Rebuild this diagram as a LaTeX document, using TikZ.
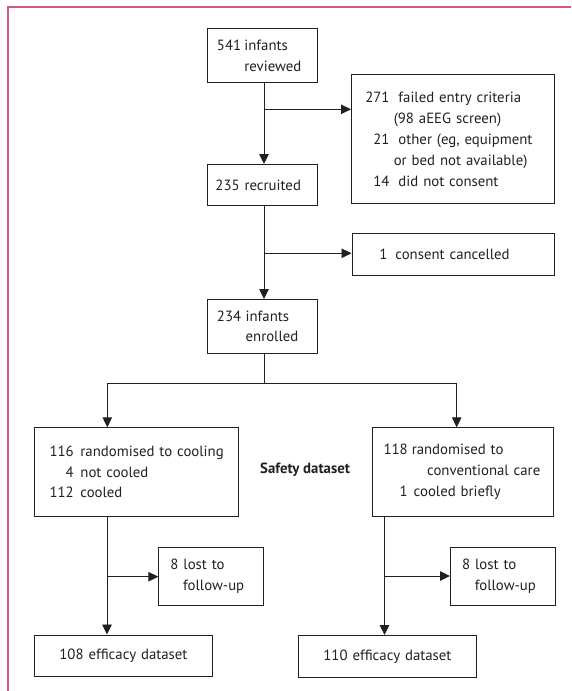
\documentclass[tikz,border=0pt]{standalone}
\usepackage{fontspec}
\setmainfont{PT Sans}
\usetikzlibrary{arrows.meta,calc}
\definecolor{pinkline}{RGB}{212,88,128}
\definecolor{ink}{RGB}{35,31,32}
\begin{document}
\begin{tikzpicture}[x=1pt,y=-1pt,
  box/.style={draw=ink, line width=0.9pt, anchor=north west, inner ysep=0pt,
    align=left, text=ink, font=\fontsize{14.8}{20.8}\selectfont},
  cbox/.style={box, align=center},
  conn/.style={draw=ink, line width=0.9pt},
  arr/.style={conn, -{Triangle[length=10pt,width=9.5pt]}}]
\useasboundingbox (0,0) rectangle (571,691);
\draw[pinkline, line width=1.8pt] (571,7) -- (8,7) -- (8,691);

% boxes
\node[box, minimum width=110pt, minimum height=54pt, text width=102pt, inner xsep=4pt] (b1) at (206.7,28.3)
  {\makebox[30pt][r]{541}\hspace{3.3pt}infants\\\hspace*{33.3pt}reviewed};
\node[box, minimum width=202.5pt, minimum height=129pt, text width=194.5pt, inner xsep=4pt] (b2) at (351,74.3)
  {\makebox[34pt][r]{271}\hspace{9pt}failed entry criteria\\
   \hspace*{38.3pt}(98 aEEG screen)\\
   \makebox[34pt][r]{21}\hspace{9pt}other (eg, equipment\\
   \hspace*{38.3pt}or bed not available)\\
   \makebox[34pt][r]{14}\hspace{9pt}did not consent};
\node[box, minimum width=110pt, minimum height=41.3pt, text width=93.4pt, inner xsep=8.3pt] (b3) at (206.7,164)
  {235 recruited};
\node[box, minimum width=202.5pt, minimum height=42.3pt, text width=194.5pt, inner xsep=4pt] (b4) at (351.5,232.7)
  {\makebox[31.5pt][r]{1}\hspace{8pt}consent cancelled};
\node[box, minimum width=110pt, minimum height=53.7pt, text width=102pt, inner xsep=4pt] (b5) at (206.7,299)
  {\makebox[30pt][r]{234}\hspace{4.5pt}infants\\\hspace*{34.5pt}enrolled};
\node[box, minimum width=204.3pt, minimum height=88.4pt, text width=196.3pt, inner xsep=4pt] (b6) at (34,427.3)
  {\makebox[35.3pt][r]{116}\hspace{6.7pt}randomised to cooling\\
   \makebox[35.3pt][r]{4}\hspace{6.7pt}not cooled\\
   \makebox[35.3pt][r]{112}\hspace{6.7pt}cooled};
\node[box, minimum width=181.6pt, minimum height=88.4pt, text width=173.6pt, inner xsep=4pt] (b7) at (371.7,427.3)
  {\makebox[31.6pt][r]{118}\hspace{4pt}randomised to\\
   \hspace*{51pt}conventional care\\
   \makebox[31.6pt][r]{1}\hspace{6pt}cooled briefly};
\node[box, minimum width=105pt, minimum height=58.3pt, text width=81.6pt, inner xsep=11.7pt] (b8) at (158.3,546.7)
  {8 lost to\\\hspace*{12.7pt}follow-up};
\node[box, minimum width=105pt, minimum height=58.3pt, text width=81.6pt, inner xsep=11.7pt] (b9) at (450,546.7)
  {8 lost to\\\hspace*{12.7pt}follow-up};
\node[cbox, minimum width=178pt, minimum height=41.5pt, text width=170pt, inner xsep=4pt] (b10) at (34,634.5)
  {108 efficacy dataset};
\node[cbox, minimum width=177.4pt, minimum height=41.7pt, text width=169.4pt, inner xsep=4pt] (b11) at (298.3,635)
  {110 efficacy dataset};
\node[anchor=west, inner sep=0pt, text=ink, font=\fontsize{14.8}{20.8}\selectfont\bfseries] (safety) at (260,470)
  {Safety dataset};

% connectors
\coordinate (mx) at (264,0);
\draw[arr] (b1.south -| mx) -- (b3.north -| mx);
\coordinate (j1) at (264,109.3);
\draw[arr] (j1) -- (j1 -| b2.west);
\draw[arr] (b3.south -| mx) -- (b5.north -| mx);
\coordinate (j2) at (264,253.3);
\draw[arr] (j2) -- (j2 -| b4.west);
\coordinate (br) at (264,383.3);
\coordinate (lx) at (107.3,383.3);
\coordinate (rx) at (456.7,383.3);
\draw[conn] (b5.south -| mx) -- (br);
\draw[arr] (br) -- (lx) -- (lx |- b6.north);
\draw[arr] (br) -- (rx) -- (rx |- b7.north);
\coordinate (lv) at (107,0);
\draw[arr] (b6.south -| lv) -- (b10.north -| lv);
\coordinate (j3) at (107,576.7);
\draw[arr] (j3) -- (j3 -| b8.west);
\coordinate (rv) at (384.5,0);
\draw[arr] (b7.south -| rv) -- (b11.north -| rv);
\coordinate (j4) at (384.5,576);
\draw[arr] (j4) -- (j4 -| b9.west);
\end{tikzpicture}
\end{document}
